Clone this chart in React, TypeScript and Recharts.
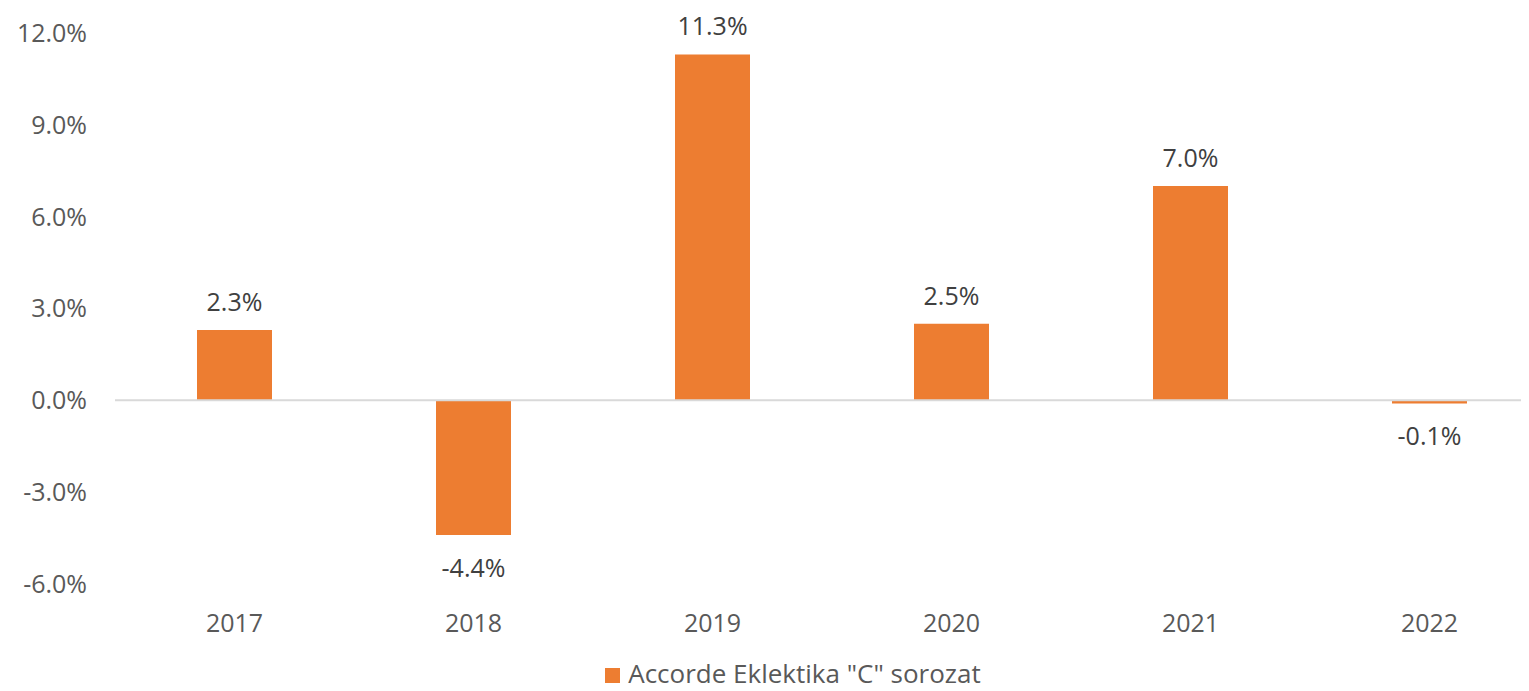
import React from 'react'
import { BarChart, Bar, XAxis, YAxis, Legend, LabelList, ReferenceLine } from 'recharts'

const years = ['2017', '2018', '2019', '2020', '2021', '2022']
const returns = [2.3, -4.4, 11.3, 2.5, 7.0, -0.1]
const yTicks = [-6, -3, 0, 3, 6, 9, 12]
const seriesName = 'Accorde Eklektika "C" sorozat'

const data = years.map((year, i) => ({ year, value: returns[i] }))

const FONT = "'Open Sans', sans-serif"
const ORANGE = '#ED7D31'

const fmt = (v: number) => `${v.toFixed(1)}%`

const ValueLabel = (props: any) => {
  const { x, y, width, height, value } = props
  const top = Math.min(y, y + height)
  const bottom = Math.max(y, y + height)
  const cy = value >= 0 ? top - 29 : bottom + 32
  return (
    <text
      x={x + width / 2}
      y={cy}
      textAnchor="middle"
      dominantBaseline="central"
      fill="#404040"
      fontSize={25}
      fontFamily={FONT}
    >
      {fmt(value)}
    </text>
  )
}

const LegendContent = () => (
  <div style={{ display: 'flex', justifyContent: 'center', alignItems: 'center', height: 36 }}>
    <span
      style={{
        width: 15,
        height: 15,
        background: ORANGE,
        display: 'inline-block',
        marginRight: 8,
        transform: 'translateY(2px)',
      }}
    />
    <span style={{ fontFamily: FONT, fontSize: 26, color: '#595959', lineHeight: '36px' }}>{seriesName}</span>
  </div>
)

const App = () => {
  return (
    <div style={{ margin: -8, width: 1523, height: 691, overflow: 'hidden', position: 'relative' }}>
      <BarChart
        width={1549}
        height={691}
        data={data}
        margin={{ top: 33, right: 0, left: 0, bottom: 11 }}
      >
        <XAxis
          dataKey="year"
          axisLine={false}
          tickLine={false}
          height={60}
          tick={{ fill: '#595959', fontSize: 25, fontFamily: FONT }}
          dy={22}
        />
        <YAxis
          domain={[-6, 12]}
          ticks={yTicks}
          width={115}
          axisLine={false}
          tickLine={false}
          interval={0}
          tickFormatter={fmt}
          tick={{ fill: '#595959', fontSize: 25, fontFamily: FONT, dx: -20 }}
        />
        <ReferenceLine y={0} stroke="#D9D9D9" strokeWidth={2} />
        <Bar dataKey="value" name={seriesName} fill={ORANGE} barSize={75} isAnimationActive={false}>
          <LabelList dataKey="value" content={ValueLabel} />
        </Bar>
        <Legend
          content={LegendContent}
          wrapperStyle={{ top: 655, left: 0, width: 1586 }}
        />
      </BarChart>
    </div>
  )
}

export default App
